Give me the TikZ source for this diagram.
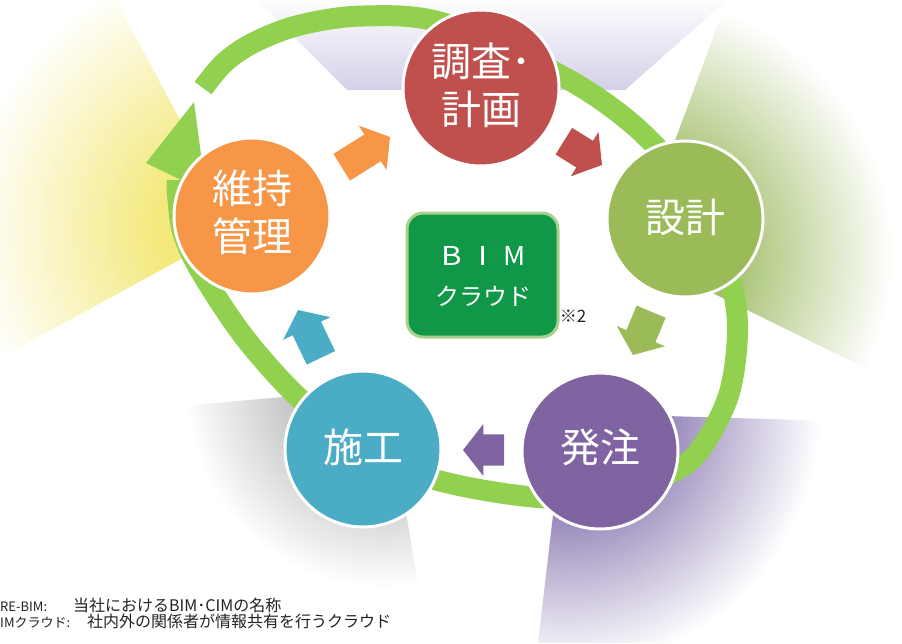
\documentclass[tikz,border=0pt]{standalone}
\usepackage{fontspec}
\setmainfont{Noto Sans CJK JP}
\usetikzlibrary{shapes.arrows}
\definecolor{cRed}{HTML}{C0504D}
\definecolor{cGreen}{HTML}{9BBB59}
\definecolor{cPurple}{HTML}{8064A2}
\definecolor{cAqua}{HTML}{4BACC6}
\definecolor{cOrange}{HTML}{F79646}
\definecolor{cRing}{HTML}{92D050}
\definecolor{cBim}{HTML}{109848}
\definecolor{cBimEdge}{HTML}{A9D18E}
\definecolor{wLav}{HTML}{D3D0E8}
\definecolor{wGreen}{HTML}{9DBB62}
\definecolor{wPurple}{HTML}{9080B5}
\definecolor{wGray}{HTML}{BEBEBE}
\definecolor{wYellow}{HTML}{F3E87A}
\definecolor{cNote}{HTML}{222222}
\pgfdeclareradialshading{rayGreen}{\pgfpoint{0bp}{0bp}}{color(0bp)=(wGreen); color(8bp)=(wGreen); color(25bp)=(white); color(50bp)=(white)}
\pgfdeclareradialshading{rayPurple}{\pgfpoint{0bp}{0bp}}{color(0bp)=(wPurple); color(9bp)=(wPurple); color(25bp)=(white); color(50bp)=(white)}
\pgfdeclareradialshading{rayGray}{\pgfpoint{0bp}{0bp}}{color(0bp)=(wGray); color(10bp)=(wGray); color(25bp)=(white); color(50bp)=(white)}
\pgfdeclareradialshading{rayYellow}{\pgfpoint{0bp}{0bp}}{color(0bp)=(wYellow); color(7bp)=(wYellow); color(25bp)=(white); color(50bp)=(white)}
\begin{document}
\begin{tikzpicture}[x=1pt,y=-1pt,
  stage/.style={circle, minimum size=156pt, inner sep=0pt, draw=white, line width=3pt},
  stagetext/.style={text=white, font=\fontsize{40}{48}\selectfont, align=center, inner sep=0pt},
  flow/.style={single arrow, minimum height=#1,
    single arrow head extend=10.5pt, single arrow tip angle=104,
    inner sep=0pt, outer sep=0pt, anchor=tip},
  ring/.style={draw=cRing, line width=21pt},
  note/.style={text=cNote, inner sep=0pt}
]
\useasboundingbox (0,0) rectangle (902,643);
% background rays
\shade[top color=white!96!wLav, bottom color=wLav] (257,0) -- (347,90) -- (625,90) -- (727,0) -- cycle;
\begin{scope}
  \clip (633,254) -- (727,0) -- (902,0) -- (902,386) -- cycle;
  \shade[shading=rayGreen] (633,254) circle (260pt);
\end{scope}
\begin{scope}
  \clip (565,413) -- (902,423) -- (902,643) -- (538,643) -- cycle;
  \shade[shading=rayPurple] (565,413) circle (255pt);
\end{scope}
\begin{scope}
  \clip (385,388) -- (0,422) -- (0,643) -- (428,643) -- cycle;
  \shade[shading=rayGray] (385,388) circle (200pt);
\end{scope}
\begin{scope}
  \clip (238,228) -- (116,0) -- (0,0) -- (0,358) -- cycle;
  \shade[shading=rayYellow] (238,228) circle (270pt);
\end{scope}
% cycle ring arrow
\draw[ring] plot[smooth, tension=0.55] coordinates {(203,88) (225,62) (255,42) (300,25) (363,16) (443,23) (560,75) (630,122) (680,175) (718,240) (735,300) (737,344) (729,394) (708,438) (680,468) (610,495) (533,497) (433,479) (360,445) (300,399) (245,338) (201,272) (183,233) (178,200) (177,180)};
\fill[cRing] (146,163) -- (194,102) -- (206,192) -- cycle;
% stages
\node[stage, fill=cRed] (s1) at (481,88) {};
\node[stage, fill=cGreen] (s2) at (685,219) {};
\node[stage, fill=cPurple] (s3) at (600,451) {};
\node[stage, fill=cAqua] (s4) at (363,449) {};
\node[stage, fill=cOrange] (s5) at (252,216) {};
\node[stagetext] (s1t) at (481,85) {調査･\\計画};
\node[stagetext] (s2t) at (685,217) {設計};
\node[stagetext] (s3t) at (600,447) {発注};
\node[stagetext] (s4t) at (363,447) {施工};
\node[stagetext] (s5t) at (252,212) {維持\\管理};
% flow arrows
\node[flow=57pt, fill=cOrange, rotate=32] (a1) at (390,137) {\rule{0pt}{31pt}};
\node[flow=45pt, fill=cRed, rotate=-32] (a2) at (602,165) {\rule{0pt}{31pt}};
\node[flow=47pt, fill=cGreen, rotate=-112.7] (a3) at (633,355) {\rule{0pt}{31pt}};
\node[flow=41pt, fill=cPurple, rotate=180] (a4) at (463,450) {\rule{0pt}{31pt}};
\node[flow=53pt, fill=cAqua, rotate=115.6] (a5) at (298,310) {\rule{0pt}{31pt}};
% BIM cloud
\node[rectangle, rounded corners=16pt, minimum width=151pt, minimum height=124pt,
  fill=cBim, draw=cBimEdge, line width=3pt] (bim) at (482.5,275) {};
\node[text=white, font=\fontsize{26}{30}\selectfont, inner sep=0pt] (bimB) at (452,256) {\scalebox{1.2}[1]{B}};
\node[text=white, font=\fontsize{26}{30}\selectfont, inner sep=0pt] (bimI) at (483,256) {\scalebox{1.2}[1]{I}};
\node[text=white, font=\fontsize{26}{30}\selectfont, inner sep=0pt] (bimM) at (515,256) {\scalebox{1.05}[1]{M}};
\node[text=white, font=\fontsize{24}{28}\selectfont, inner sep=0pt] (bimC) at (483,296) {クラウド};
\node[text=cNote, font=\fontsize{17}{20}\selectfont, inner sep=0pt] (ref2) at (573,316) {※2};
% notes
\node[note, font=\fontsize{13}{15}\selectfont, anchor=base west] (n1a) at (0,611) {RE-BIM:};
\node[note, font=\fontsize{16}{17}\selectfont, anchor=base west] (n1b) at (73,611) {当社におけるBIM･CIMの名称};
\node[note, font=\fontsize{13}{15}\selectfont, anchor=base west] (n2a) at (0,627) {IMクラウド:};
\node[note, font=\fontsize{16}{17}\selectfont, anchor=base west] (n2b) at (87,627) {社内外の関係者が情報共有を行うクラウド};
\end{tikzpicture}
\end{document}
